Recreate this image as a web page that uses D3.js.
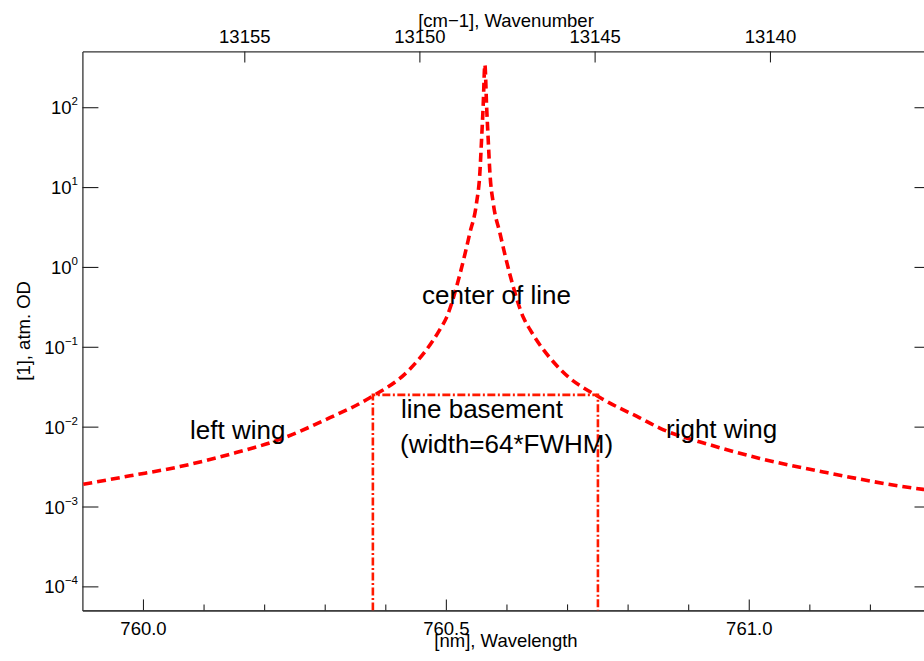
<!DOCTYPE html>
<html>

<head>
	<meta charset='utf-8'>
	<title>Line shape</title>
	<script type='text/javascript' src='https://cdn.jsdelivr.net/npm/d3@7'></script>
	<style>
		body { margin: 0; background: #fff; }
		text { font-family: 'Liberation Sans', Arial, Helvetica, sans-serif; fill: #000; }
	</style>
</head>

<body>
	<svg width='924' height='661'></svg>
	<script>
		// values: wavelength [nm] and optical depth
		const wavelength = [759.9015, 759.9785, 760.061, 760.1436, 760.226, 760.3086, 760.3746, 760.440, 760.490, 760.501,
			760.523, 760.5396, 760.5506, 760.5561, 760.5589, 760.5615, 760.5644,
			760.5673, 760.5699, 760.5727, 760.5782, 760.5892, 760.6058, 760.628, 760.639, 760.689, 760.755,
			760.820, 760.853, 760.940, 761.018, 761.128, 761.288, 761.300]
		const opticalDepth = [0.00190, 0.00242, 0.00316, 0.00451, 0.00693, 0.01294, 0.0230, 0.052, 0.164, 0.232,
			0.80, 2.66, 6.3, 15, 39, 100, 340,
			100, 39, 15, 6.3, 2.66, 0.80, 0.232, 0.164, 0.052, 0.0230,
			0.0129, 0.0096, 0.0058, 0.0040, 0.00266, 0.00164, 0.00160]

		// line basement (64*FWHM wide)
		const basementWl = [760.3795, 760.751]
		const basementOd = 0.025

		const wlMajor = [760.0, 760.5, 761.0]
		const wlMinor = [760.1, 760.2, 760.3, 760.4, 760.6, 760.7, 760.8, 760.9, 761.1, 761.2]
		const wnTicks = [13155, 13150, 13145, 13140]
		const odExp = [-4, -3, -2, -1, 0, 1, 2]

		const svg = d3.select('svg')
		const plot = { left: 82.4, right: 930.5, top: 51.4, bottom: 610.4 }

		const x = d3.scaleLinear().domain([759.9, 761.3]).range([plot.left, plot.right])
		const y = d3.scaleLog().domain([5e-5, 500]).range([plot.bottom, plot.top])

		svg.append('clipPath').attr('id', 'clip')
			.append('rect')
			.attr('x', plot.left).attr('y', plot.top)
			.attr('width', plot.right - plot.left).attr('height', plot.bottom - plot.top)

		// axes
		const bottomAxis = svg.append('g').attr('transform', `translate(0,${plot.bottom})`)
			.call(d3.axisBottom(x).tickValues(wlMajor).tickSize(-11).tickSizeOuter(0).tickFormat(d3.format('.1f')))
		bottomAxis.selectAll('text').attr('y', 0).attr('dy', 24.5).attr('font-size', 18.5)
		svg.append('g').attr('transform', `translate(0,${plot.bottom})`)
			.call(d3.axisBottom(x).tickValues(wlMinor).tickSize(-6).tickSizeOuter(0).tickFormat(''))

		const topAxis = svg.append('g').attr('transform', `translate(0,${plot.top})`)
			.call(d3.axisTop(x).tickValues(wnTicks.map(w => 1e7 / w)).tickSize(-11).tickSizeOuter(0)
				.tickFormat((d, i) => wnTicks[i]))
		topAxis.selectAll('text').attr('y', -8.5).attr('dy', 0).attr('font-size', 18.5)

		svg.append('g').attr('transform', `translate(${plot.left},0)`)
			.call(d3.axisLeft(y).tickValues(odExp.map(e => Math.pow(10, e))).tickSize(-16).tickSizeOuter(0).tickFormat(''))
		svg.append('g').attr('transform', `translate(${plot.right},0)`)
			.call(d3.axisRight(y).tickValues(odExp.map(e => Math.pow(10, e))).tickSize(-16).tickSizeOuter(0).tickFormat(''))

		svg.selectAll('.domain').attr('stroke', '#333').attr('stroke-width', 1.3)
		svg.selectAll('.tick line').attr('stroke', '#222').attr('stroke-width', 1.1)

		// y tick labels as 10 with superscript
		const yLab = svg.append('g')
			.selectAll('text')
			.data(odExp)
			.join('text')
			.attr('x', 78)
			.attr('y', d => y(Math.pow(10, d)) + 7)
			.attr('text-anchor', 'end')
			.attr('font-size', 18.5)
		yLab.append('tspan').text('10')
		yLab.append('tspan').attr('dy', -9).attr('font-size', 11.5)
			.text(d => d < 0 ? '\u2212' + Math.abs(d) : d)

		// axis titles
		svg.append('text').attr('x', 506).attr('y', 647).attr('text-anchor', 'middle')
			.attr('font-size', 18.5).text('[nm], Wavelength')
		svg.append('text').attr('x', 506).attr('y', 26.5).attr('text-anchor', 'middle')
			.attr('font-size', 18.5).text('[cm\u22121], Wavenumber')
		svg.append('text').attr('transform', `translate(30,${(plot.top + plot.bottom) / 2}) rotate(-90)`)
			.attr('text-anchor', 'middle').attr('font-size', 18.5).text('[1], atm. OD')

		// curve
		const data = wavelength.map((w, i) => ({ x: w, y: opticalDepth[i] }))
		const line = d3.line().x(d => x(d.x)).y(d => y(d.y)).curve(d3.curveMonotoneX)
		svg.append('path')
			.datum(data)
			.attr('clip-path', 'url(#clip)')
			.attr('fill', 'none')
			.attr('stroke', '#ff0000')
			.attr('stroke-width', 3.6)
			.attr('stroke-dasharray', '9,5')
			.attr('d', line)

		// basement box (open at bottom)
		svg.append('path')
			.attr('clip-path', 'url(#clip)')
			.attr('fill', 'none')
			.attr('stroke', '#ff1a00')
			.attr('stroke-width', 2.6)
			.attr('stroke-dasharray', '8,2.5,2,2.5')
			.attr('d', d3.line()([
				[x(basementWl[0]), plot.bottom], [x(basementWl[0]), y(basementOd)],
				[x(basementWl[1]), y(basementOd)], [x(basementWl[1]), plot.bottom]
			]))

		// annotations
		const notes = svg.append('g').attr('font-size', 26)
		notes.append('text').attr('x', 190).attr('y', 439).text('left wing')
		notes.append('text').attr('x', 422).attr('y', 304).text('center of line')
		notes.append('text').attr('x', 401).attr('y', 418).text('line basement')
		notes.append('text').attr('x', 400).attr('y', 453).text('(width=64*FWHM)')
		notes.append('text').attr('x', 666).attr('y', 438).text('right wing')
	</script>
</body>

</html>
